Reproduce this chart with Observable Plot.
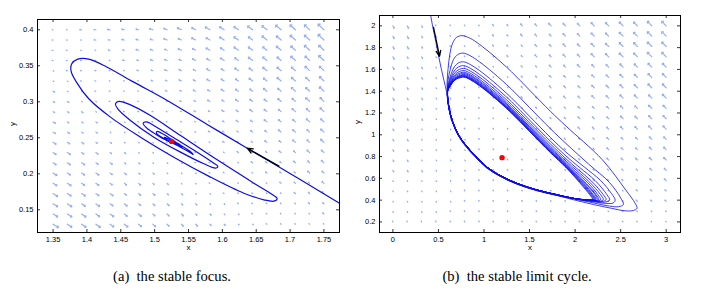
<!DOCTYPE html>
<html><head><meta charset="utf-8">
<script src="https://cdn.jsdelivr.net/npm/d3@7"></script>
<script src="https://cdn.jsdelivr.net/npm/@observablehq/plot@0.6"></script>
<style>
body{margin:0;background:#fff;}
#wrap{position:relative;width:709px;height:292px;overflow:hidden;background:#fff;}
.panel{position:absolute;top:0;}
.cap{position:absolute;top:269px;font-family:"Liberation Serif","Times New Roman",serif;font-size:14.6px;line-height:15px;white-space:pre;transform:translateX(-50%);color:#000;}
</style></head><body>
<div id="wrap"></div>
<script>
// ---------- Panel (a): stable focus ----------
const xTicksA = [1.35, 1.4, 1.45, 1.5, 1.55, 1.6, 1.65, 1.7, 1.75];
const yTicksA = [0.15, 0.2, 0.25, 0.3, 0.35, 0.4];
const gridXA = [1.35,1.3711,1.3921,1.4132,1.4342,1.4553,1.4763,1.4974,1.5184,1.5395,1.5605,1.5816,1.6026,1.6237,1.6447,1.6658,1.6868,1.7079,1.7289,1.75];
const gridYA = [0.4,0.3858,0.3716,0.3574,0.3432,0.3289,0.3147,0.3005,0.2863,0.2721,0.2579,0.2437,0.2295,0.2153,0.2011,0.1868,0.1726,0.1584,0.1442,0.13];
// magnitude per arrow: digits = up-left type, letters a..i = down-right type (1..9)
const magA = [
"11223334455666778889",
"01122333445566677889",
"00112233344556667788",
"00011223334455666778",
"a0001122333445566677",
"aa001112233444556667",
"baa00111223344455667",
"bbaa0011122334445566",
"bbbaa001112233444556",
"cbbbaa00111223344455",
"ccbbaaa0011222334445",
"dccbbaaa001122233445",
"ddccbbaaa00112223344",
"dddccbbaaa0011222334",
"edddccbbaaa001122233",
"eeddcccbbaa000112223",
"feeddcccbbaa00011223",
"ffeeddcccbbaa0001122",
"fffeeddcccbbaa000112",
"gfffeeddcccbbaa00011"];
const angUpA = [180,180,178,175,172,168,165,162,158,155,152,150,147,145,143,141,140,138,137,136];
const angDnA = [-32,-33,-34,-35,-36,-38,-40,-42,-44,-45,-45,-45,-45,-45,-45,-45,-45,-45,-45,-45];
const trajA = [
[1.773,0.159],[1.7155,0.1917],[1.6367,0.2356],[1.5776,0.2685],[1.5185,0.3019],[1.4692,0.3273],[1.4298,0.3481],[1.4027,0.3593],[1.3865,0.3593],[1.3776,0.3528],[1.3766,0.3426],[1.3845,0.3273],[1.4027,0.3042],[1.4347,0.2787],[1.4791,0.2509],[1.5283,0.2231],[1.5825,0.1954],[1.6318,0.1731],[1.6613,0.1639],[1.6761,0.1620],[1.6810,0.1657],[1.6736,0.1713],[1.6466,0.1870],[1.5924,0.2194],[1.5382,0.2532],[1.4938,0.2810],[1.4643,0.2958],[1.4470,0.3005],[1.4421,0.2972],[1.4456,0.2903],[1.4643,0.2741],[1.4988,0.2509],[1.5382,0.2301],[1.5727,0.2139],[1.5899,0.2079],[1.5934,0.2102],[1.5874,0.2148],[1.5628,0.2301],[1.5283,0.2500],[1.5012,0.2657],[1.4879,0.2722],[1.4830,0.2704],[1.4869,0.2648],[1.5086,0.2509],[1.5382,0.2370],[1.5539,0.2287],[1.5569,0.2269],[1.5539,0.2301],[1.5333,0.2426],[1.5135,0.2546],[1.5037,0.2588],[1.5027,0.2565],[1.5135,0.2491],[1.5333,0.2407],[1.5406,0.2370],[1.5382,0.2398],[1.5234,0.2472],[1.5145,0.2509],[1.5185,0.2472],[1.5283,0.2435],[1.525,0.245]];
const eqA = [[1.525, 0.245]];
const arrowA = [[1.6835, 0.2106, 1.6367, 0.2356]];

// ---------- Panel (b): stable limit cycle ----------
const xTicksB = [0, 0.5, 1, 1.5, 2, 2.5, 3];
const yTicksB = [0.2, 0.4, 0.6, 0.8, 1, 1.2, 1.4, 1.6, 1.8, 2];
const gridXB = [0,0.1579,0.3158,0.4737,0.6316,0.7895,0.9474,1.1053,1.2632,1.4211,1.5789,1.7368,1.8947,2.0526,2.2105,2.3684,2.5263,2.6842,2.8421,3];
const gridYB = [2,1.9053,1.8105,1.7158,1.6211,1.5263,1.4316,1.3368,1.2421,1.1474,1.0526,0.9579,0.8632,0.7684,0.6737,0.5789,0.4842,0.3895,0.2947,0.2];
const magB = [
"ccb00112233444556677",
"ccba0112233344556677",
"ccba0112223344556677",
"cbba0011223344556677",
"cbba0011122334445566",
"cbbaa011122333445566",
"cbbaa001122333445566",
"cbbaa001122233445556",
"cbbaa000112223334455",
"cbbaaa00111223334455",
"bbaaa000111223334455",
"bbaaaa00011122233344",
"bbaaaa00011122233344",
"bbaaaa00001122233344",
"bbbaaa00001111222233",
"aaaaa000000111222233",
"aaaaa000000011111222",
"aaaaa000000011111222",
"aaaa0000000000011111",
"00000000000000000011"];
const angUpB = [115,115,115,115,118,120,123,126,128,130,132,133,134,135,135,135,135,135,135,135];
const angDnB = [-62,-62,-62,-62,-60,-58,-55,-52,-50,-48,-46,-45,-45,-45,-45,-45,-45,-45,-45,-45];
const descentB = [[0.415,2.095],[0.44,1.98],[0.47,1.86],[0.50,1.73],[0.53,1.61],[0.56,1.50],[0.59,1.39]];
const bandOuter = [[0.612,1.25],[0.652,1.12],[0.716,0.996],[0.796,0.898],[0.898,0.802],[1.028,0.697],[1.176,0.619],[1.356,0.549],[1.578,0.488],[1.80,0.443]];
const bandMid = [[0.614,1.25],[0.654,1.12],[0.718,0.998],[0.798,0.902],[0.902,0.805],[1.031,0.700],[1.178,0.622],[1.358,0.552],[1.579,0.491],[1.80,0.447]];
const bandInner = [[0.616,1.25],[0.656,1.12],[0.72,1.0],[0.80,0.905],[0.905,0.808],[1.033,0.703],[1.18,0.625],[1.36,0.555],[1.58,0.494],[1.80,0.45]];
const up1 = [[2.0,0.40],[2.2,0.36],[2.4,0.325],[2.55,0.302],[2.64,0.305],[2.68,0.325],[2.66,0.37],[2.55,0.50],[2.3,0.77],[1.9,1.08],[1.73,1.215],[1.5,1.41],[1.3,1.58],[1.1,1.73],[0.95,1.83],[0.85,1.885],[0.76,1.91],[0.70,1.895],[0.655,1.84],[0.625,1.74],[0.605,1.60],[0.595,1.48],[0.598,1.38]];
const up2 = [[2.0,0.41],[2.2,0.375],[2.38,0.345],[2.48,0.34],[2.53,0.36],[2.50,0.42],[2.38,0.56],[2.15,0.73],[1.9,0.92],[1.73,1.055],[1.5,1.25],[1.3,1.42],[1.1,1.57],[0.95,1.67],[0.85,1.725],[0.77,1.75],[0.71,1.735],[0.665,1.69],[0.63,1.60],[0.605,1.50],[0.598,1.40]];
const up3 = [[2.0,0.413],[2.2,0.385],[2.34,0.37],[2.42,0.375],[2.44,0.40],[2.40,0.46],[2.28,0.58],[2.1,0.705],[1.9,0.84],[1.73,0.975],[1.5,1.17],[1.3,1.34],[1.1,1.49],[0.95,1.59],[0.85,1.645],[0.775,1.67],[0.72,1.66],[0.675,1.625],[0.64,1.56],[0.612,1.48],[0.6,1.40]];
const up4 = [[2.0,0.414],[2.2,0.39],[2.32,0.382],[2.38,0.40],[2.35,0.45],[2.22,0.58],[2.05,0.70],[1.9,0.805],[1.73,0.94],[1.5,1.135],[1.3,1.305],[1.1,1.455],[0.95,1.555],[0.85,1.61],[0.777,1.635],[0.725,1.625],[0.68,1.595],[0.645,1.54],[0.615,1.47],[0.6,1.40]];
const up5 = [[2.0,0.414],[2.2,0.393],[2.3,0.388],[2.34,0.405],[2.31,0.45],[2.18,0.575],[2.02,0.69],[1.9,0.78],[1.73,0.915],[1.5,1.11],[1.3,1.28],[1.1,1.43],[0.95,1.53],[0.85,1.585],[0.778,1.61],[0.73,1.60],[0.685,1.575],[0.65,1.53],[0.618,1.465],[0.6,1.40]];
const up6 = [[2.0,0.414],[2.2,0.396],[2.28,0.392],[2.31,0.405],[2.28,0.45],[2.16,0.565],[2.02,0.67],[1.9,0.76],[1.73,0.895],[1.5,1.09],[1.3,1.26],[1.1,1.41],[0.95,1.51],[0.85,1.565],[0.779,1.59],[0.735,1.582],[0.69,1.56],[0.655,1.52],[0.62,1.46],[0.6,1.40]];
const up7 = [[2.0,0.414],[2.2,0.397],[2.26,0.395],[2.28,0.407],[2.25,0.45],[2.14,0.56],[2.0,0.665],[1.9,0.745],[1.73,0.88],[1.5,1.075],[1.3,1.245],[1.1,1.395],[0.95,1.495],[0.85,1.55],[0.78,1.575],[0.74,1.568],[0.695,1.55],[0.66,1.515],[0.622,1.455],[0.6,1.40]];
const up8 = [[2.0,0.414],[2.2,0.398],[2.245,0.397],[2.26,0.408],[2.23,0.45],[2.12,0.555],[2.0,0.65],[1.9,0.735],[1.73,0.87],[1.5,1.065],[1.3,1.235],[1.1,1.385],[0.95,1.485],[0.85,1.54],[0.78,1.565],[0.742,1.558],[0.698,1.54],[0.662,1.51],[0.623,1.452],[0.6,1.40]];
const up9 = [[2.0,0.414],[2.2,0.399],[2.235,0.399],[2.245,0.408],[2.22,0.45],[2.11,0.555],[2.0,0.64],[1.9,0.725],[1.73,0.86],[1.5,1.055],[1.3,1.225],[1.1,1.375],[0.95,1.475],[0.85,1.53],[0.78,1.555],[0.745,1.548],[0.70,1.532],[0.665,1.505],[0.624,1.45],[0.6,1.40]];
const up10 = [[2.0,0.414],[2.2,0.4],[2.23,0.41],[2.2,0.45],[2.1,0.55],[2.0,0.635],[1.9,0.718],[1.73,0.853],[1.5,1.048],[1.3,1.218],[1.1,1.368],[0.95,1.468],[0.85,1.523],[0.78,1.548],[0.745,1.542],[0.70,1.526],[0.665,1.50],[0.625,1.447],[0.6,1.40]];
const up11 = [[2.0,0.414],[2.19,0.401],[2.22,0.41],[2.19,0.45],[2.09,0.55],[2.0,0.628],[1.9,0.712],[1.73,0.847],[1.5,1.042],[1.3,1.212],[1.1,1.362],[0.95,1.462],[0.85,1.517],[0.78,1.542],[0.745,1.537],[0.70,1.522],[0.665,1.497],[0.625,1.445],[0.6,1.40]];
const up12 = [[2.0,0.414],[2.18,0.401],[2.21,0.41],[2.18,0.45],[2.08,0.55],[2.0,0.62],[1.9,0.707],[1.73,0.842],[1.5,1.037],[1.3,1.207],[1.1,1.357],[0.95,1.457],[0.85,1.512],[0.78,1.537],[0.745,1.532],[0.70,1.518],[0.665,1.494],[0.625,1.443],[0.6,1.40]];
const up13 = [[2.0,0.414],[2.17,0.40],[2.2,0.41],[2.17,0.45],[2.07,0.55],[2.0,0.615],[1.9,0.703],[1.73,0.838],[1.5,1.033],[1.3,1.203],[1.1,1.353],[0.95,1.453],[0.85,1.508],[0.78,1.533],[0.745,1.528],[0.70,1.515],[0.665,1.492],[0.625,1.442],[0.6,1.40]];
const up14 = [[2.0,0.414],[2.16,0.40],[2.19,0.41],[2.16,0.45],[2.05,0.56],[1.9,0.70],[1.73,0.835],[1.5,1.03],[1.3,1.20],[1.1,1.35],[0.95,1.45],[0.85,1.505],[0.78,1.53],[0.745,1.525],[0.70,1.512],[0.665,1.49],[0.625,1.44],[0.6,1.40]];
const eqB = [[1.198, 0.79]];
const arrowB = [[0.446, 1.987, 0.512, 1.719]];

// ---------- build ----------
const quiverColor = "#94adf6";
const lineColor = "#0b0bef";
const fontSans = "Liberation Sans, Arial, Helvetica, sans-serif";

function quiver(xs, ys, rows, angUp, angDn) {
  const out = [];
  rows.forEach((row, j) => {
    [...row].forEach((ch, i) => {
      const dn = ch >= "a";
      const m = dn ? ch.charCodeAt(0) - 96 : +ch;
      out.push({x: xs[i], y: ys[j], m, ang: dn ? angDn[i] : angUp[i]});
    });
  });
  return out;
}

const trajB = [...descentB, ...bandOuter, ...up1, ...bandOuter, ...up2, ...bandMid, ...up3, ...bandMid, ...up4, ...bandMid, ...up5,
  ...bandInner, ...up6, ...bandInner, ...up7, ...bandInner, ...up8, ...bandInner, ...up9, ...bandInner, ...up10,
  ...bandInner, ...up11, ...bandInner, ...up12, ...bandInner, ...up13, ...bandInner, ...up14, ...bandInner];

function panel({width, height, mL, mR, mT, mB, xDom, yDom, xTicks, yTicks, grid, traj, lineW, eq, arrow, yLabelDx}) {
  const innerW = width - mL - mR, innerH = height - mT - mB;
  return Plot.plot({
    width, height, marginLeft: mL, marginRight: mR, marginTop: mT, marginBottom: mB,
    style: {fontFamily: fontSans, fontSize: "7.5px", background: "transparent", color: "#000"},
    x: {domain: xDom},
    y: {domain: yDom},
    length: {type: "identity"},
    marks: [
      Plot.vector(grid, {x: "x", y: "y", length: d => d.m === 0 ? 1 : d.m * 0.9, rotate: d => 90 - d.ang,
        anchor: "start", r: 3.3, stroke: quiverColor, strokeWidth: 1.15}),
      Plot.line(traj, {x: d => d[0], y: d => d[1], curve: "catmull-rom", stroke: lineColor, strokeWidth: lineW}),
      Plot.arrow(arrow, {x1: d => d[0], y1: d => d[1], x2: d => d[2], y2: d => d[3], stroke: "#000", strokeWidth: 1.3, headLength: 7, headAngle: 45}),
      Plot.dot(eq, {x: d => d[0], y: d => d[1], r: 2.7, fill: "#ff0000", stroke: "none"}),
      Plot.frame({stroke: "#000", strokeWidth: 1}),
      Plot.tickX(xTicks, {x: d => d, insetTop: innerH - 3, stroke: "#000", strokeWidth: 0.8}),
      Plot.tickX(xTicks, {x: d => d, insetBottom: innerH - 3, stroke: "#000", strokeWidth: 0.8}),
      Plot.tickY(yTicks, {y: d => d, insetRight: innerW - 3, stroke: "#000", strokeWidth: 0.8}),
      Plot.tickY(yTicks, {y: d => d, insetLeft: innerW - 3, stroke: "#000", strokeWidth: 0.8}),
      Plot.axisX(xTicks, {tickSize: 0, tickPadding: 4, tickFormat: d => String(d), label: null, fontSize: 7.5}),
      Plot.axisY(yTicks, {tickSize: 0, tickPadding: 4, tickFormat: d => String(d), label: null, fontSize: 7.5}),
      Plot.text(["x"], {text: d => d, frameAnchor: "bottom", dy: 17, fontSize: 8}),
      Plot.text(["y"], {text: d => d, frameAnchor: "left", dx: yLabelDx, rotate: -90, fontSize: 8})
    ]
  });
}

const wrap = document.getElementById("wrap");
const pa = panel({width: 350, height: 260, mL: 37, mR: 11, mT: 19, mB: 28,
  xDom: [1.327, 1.773], yDom: [0.1185, 0.4143], xTicks: xTicksA, yTicks: yTicksA,
  grid: quiver(gridXA, gridYA, magA, angUpA, angDnA), traj: trajA, lineW: 1.2, eq: eqA, arrow: arrowA, yLabelDx: -25});
pa.classList.add("panel"); pa.style.left = "0px";
wrap.appendChild(pa);
const pb = panel({width: 359, height: 260, mL: 29, mR: 29, mT: 15, mB: 28,
  xDom: [-0.147, 3.157], yDom: [0.103, 2.095], xTicks: xTicksB, yTicks: yTicksB,
  grid: quiver(gridXB, gridYB, magB, angUpB, angDnB), traj: trajB, lineW: 0.8, eq: eqB, arrow: arrowB, yLabelDx: -22});
pb.classList.add("panel"); pb.style.left = "350px";
wrap.appendChild(pb);

const capA = document.createElement("div");
capA.className = "cap"; capA.style.left = "172px"; capA.textContent = "(a)  the stable focus.";
wrap.appendChild(capA);
const capB = document.createElement("div");
capB.className = "cap"; capB.style.left = "517px"; capB.textContent = "(b)  the stable limit cycle.";
wrap.appendChild(capB);
</script>
</body></html>
